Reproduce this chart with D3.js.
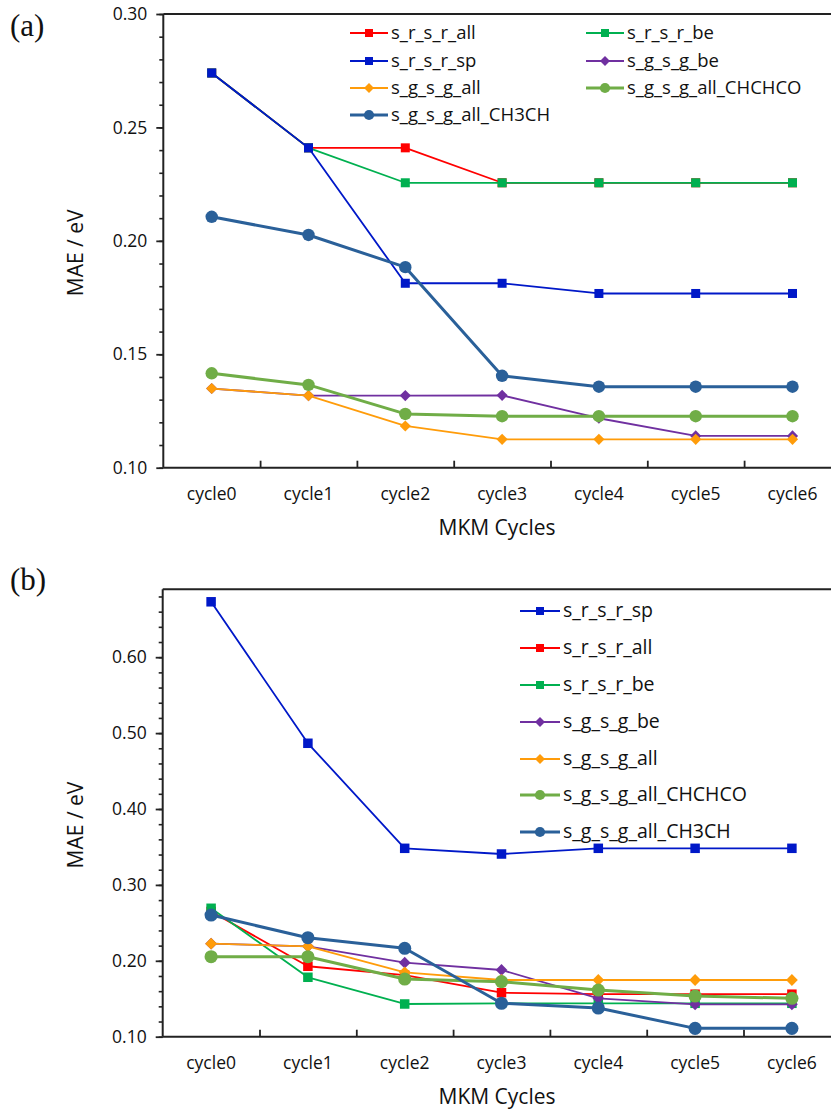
<!DOCTYPE html>
<html><head><meta charset="utf-8">
<script src="https://cdn.jsdelivr.net/npm/d3@7"></script>
<style>
html,body{margin:0;padding:0;background:#fff;}
svg text{font-family:"Open Sans",sans-serif;fill:#111;}
</style></head>
<body>
<svg id="c" width="831" height="1110"></svg>
<script>
// ---------- data ----------
const cycles = ["cycle0","cycle1","cycle2","cycle3","cycle4","cycle5","cycle6"];

// panel (a)
const aNames = ["s_r_s_r_all","s_r_s_r_be","s_r_s_r_sp","s_g_s_g_be","s_g_s_g_all","s_g_s_g_all_CHCHCO","s_g_s_g_all_CH3CH"];
const a_srsr_all = [0.274, 0.241, 0.241, 0.2256, 0.2256, 0.2256, 0.2256];
const a_srsr_be  = [0.274, 0.241, 0.2256, 0.2256, 0.2256, 0.2256, 0.2256];
const a_srsr_sp  = [0.274, 0.241, 0.1813, 0.1813, 0.1768, 0.1768, 0.1768];
const a_sgsg_be  = [0.1349, 0.1318, 0.1318, 0.1319, 0.1218, 0.1140, 0.1140];
const a_sgsg_all = [0.1349, 0.1318, 0.1184, 0.1125, 0.1125, 0.1125, 0.1125];
const a_chchco   = [0.1416, 0.1365, 0.1237, 0.1227, 0.1227, 0.1227, 0.1227];
const a_ch3ch    = [0.2106, 0.2026, 0.1884, 0.1405, 0.1357, 0.1357, 0.1357];
const aTicks = ["0.10","0.15","0.20","0.25","0.30"];

// panel (b)
const bNames = ["s_r_s_r_sp","s_r_s_r_all","s_r_s_r_be","s_g_s_g_be","s_g_s_g_all","s_g_s_g_all_CHCHCO","s_g_s_g_all_CH3CH"];
const b_srsr_sp  = [0.673, 0.4866, 0.3482, 0.3407, 0.3482, 0.3482, 0.3482];
const b_srsr_all = [0.265, 0.1928, 0.181, 0.158, 0.156, 0.156, 0.156];
const b_srsr_be  = [0.2692, 0.1783, 0.1431, 0.144, 0.144, 0.144, 0.144];
const b_sgsg_be  = [0.2225, 0.2191, 0.1975, 0.1879, 0.1506, 0.1427, 0.1427];
const b_sgsg_all = [0.2225, 0.2191, 0.1848, 0.1747, 0.1747, 0.1747, 0.1747];
const b_chchco   = [0.2054, 0.2054, 0.176, 0.1725, 0.1615, 0.1536, 0.1506];
const b_ch3ch    = [0.2603, 0.2304, 0.2165, 0.144, 0.1378, 0.111, 0.111];
const bTicks = ["0.10","0.20","0.30","0.40","0.50","0.60"];

const xTitle = "MKM Cycles";
const yTitle = "MAE / eV";

// ---------- styles ----------
const style = {
  "s_r_s_r_all":        {color:"#FF0000", shape:"square",  lw:1.8},
  "s_r_s_r_be":         {color:"#00B050", shape:"square",  lw:1.8},
  "s_r_s_r_sp":         {color:"#0018C8", shape:"square",  lw:1.8},
  "s_g_s_g_be":         {color:"#7030A0", shape:"diamond", lw:1.8},
  "s_g_s_g_all":        {color:"#FF9C0A", shape:"diamond", lw:1.8},
  "s_g_s_g_all_CHCHCO": {color:"#70AD47", shape:"circle",  lw:3},
  "s_g_s_g_all_CH3CH":  {color:"#2A6099", shape:"circle",  lw:3}
};

const svg = d3.select("#c");

function marker(g, shape, color, size){
  if(shape==="square"){
    g.append("rect").attr("x",-size/2).attr("y",-size/2).attr("width",size).attr("height",size).attr("fill",color);
  } else if(shape==="diamond"){
    const s=size*0.62;
    g.append("path").attr("d",`M0,${-s}L${s},0L0,${s}L${-s},0Z`).attr("fill",color);
  } else {
    g.append("circle").attr("r",size*0.6).attr("fill",color);
  }
}

function panel(opt){
  const {left, top, bottom, band, yMin, yMax, ticks, minorStep, series, drawOrder, label, labelY, legend, msize} = opt;
  const right = left + band*cycles.length;
  const g = svg.append("g");
  const x = d3.scaleBand().domain(cycles).range([left, right]).padding(0);
  const xi = d3.scaleLinear().domain([0, cycles.length]).range([left, right]);
  const y = d3.scaleLinear().domain([yMin, yMax]).range([bottom, top]);

  // top border
  g.append("line").attr("x1",left).attr("x2",right).attr("y1",top).attr("y2",top)
    .attr("stroke","#222").attr("stroke-width",2);

  // minor y ticks
  const minor = d3.range(Math.round((yMax-yMin)/minorStep)+1).map(i=>yMin+i*minorStep);
  const ym = g.append("g").attr("transform",`translate(${left},0)`)
    .call(d3.axisLeft(y).tickValues(minor).tickSize(4).tickFormat(""));
  ym.select(".domain").remove();
  ym.selectAll("line").attr("stroke","#222").attr("stroke-width",1.6);

  // major y ticks
  const ya = g.append("g").attr("transform",`translate(${left},0)`)
    .call(d3.axisLeft(y).tickValues(ticks.map(Number)).tickSize(7).tickPadding(9).tickFormat((d,i)=>ticks[i]));
  ya.select(".domain").attr("stroke","#222").attr("stroke-width",2).attr("d",`M0,${top}V${bottom}`);
  ya.selectAll("line").attr("stroke","#222").attr("stroke-width",1.8);
  ya.selectAll("text").attr("font-size",17.5).attr("fill","#222").style("font-family","'Open Sans',sans-serif");

  // x axis: boundary ticks pointing up
  const xb = g.append("g").attr("transform",`translate(0,${bottom})`)
    .call(d3.axisBottom(xi).tickValues(d3.range(1,cycles.length)).tickSize(-7).tickFormat(""));
  xb.select(".domain").attr("stroke","#222").attr("stroke-width",2).attr("d",`M${left},0H${right}`);
  xb.selectAll("line").attr("stroke","#222").attr("stroke-width",1.8);

  const xl = g.append("g").attr("transform",`translate(0,${bottom})`)
    .call(d3.axisBottom(x).tickSize(0).tickPadding(20));
  xl.select(".domain").remove();
  xl.selectAll("text").attr("font-size",17.5).attr("fill","#222").style("font-family","'Open Sans',sans-serif");

  // titles
  g.append("text").attr("x",497).attr("y",bottom+67).attr("text-anchor","middle")
    .attr("font-size",21).text(xTitle);
  g.append("text").attr("transform",`translate(83,${(top+bottom)/2+12}) rotate(-90)`)
    .attr("text-anchor","middle").attr("font-size",21).text(yTitle);
  g.append("text").attr("x",10).attr("y",labelY).attr("font-size",31)
    .style("font-family","'Liberation Serif','Times New Roman',serif").text(label);

  // series
  const line = d3.line().x((d,i)=>x(cycles[i])+band/2).y(d=>y(d));
  drawOrder.forEach(name=>{
    const st = style[name], vals = series[name];
    g.append("path").attr("d",line(vals)).attr("fill","none")
      .attr("stroke",st.color).attr("stroke-width",st.lw).attr("stroke-linejoin","round");
    vals.forEach((v,i)=>{
      const m = g.append("g").attr("transform",`translate(${x(cycles[i])+band/2},${y(v)})`);
      marker(m, st.shape, st.color, st.shape==="circle"? msize*1.15 : msize);
    });
  });

  // legend
  legend.items.forEach((name,k)=>{
    const st = style[name];
    const lx = legend.x[k], ly = legend.y[k];
    const lg = g.append("g").attr("transform",`translate(${lx},${ly})`);
    lg.append("line").attr("x1",0).attr("x2",legend.len).attr("y1",0).attr("y2",0)
      .attr("stroke",st.color).attr("stroke-width",st.lw);
    const m = lg.append("g").attr("transform",`translate(${legend.len/2},0)`);
    marker(m, st.shape, st.color, st.shape==="circle"? 8.5 : 8);
    lg.append("text").attr("x",legend.len+3).attr("y",6).attr("font-size",legend.fs).text(name);
  });
}

const aSeries = {
  "s_r_s_r_all":a_srsr_all, "s_r_s_r_be":a_srsr_be, "s_r_s_r_sp":a_srsr_sp,
  "s_g_s_g_be":a_sgsg_be, "s_g_s_g_all":a_sgsg_all,
  "s_g_s_g_all_CHCHCO":a_chchco, "s_g_s_g_all_CH3CH":a_ch3ch
};
const bSeries = {
  "s_r_s_r_sp":b_srsr_sp, "s_r_s_r_all":b_srsr_all, "s_r_s_r_be":b_srsr_be,
  "s_g_s_g_be":b_sgsg_be, "s_g_s_g_all":b_sgsg_all,
  "s_g_s_g_all_CHCHCO":b_chchco, "s_g_s_g_all_CH3CH":b_ch3ch
};

const aOrderLegend = ["s_r_s_r_all","s_r_s_r_be","s_r_s_r_sp","s_g_s_g_be","s_g_s_g_all","s_g_s_g_all_CHCHCO","s_g_s_g_all_CH3CH"];

panel({
  left:163.3, top:14, bottom:467.7, band:96.8, yMin:0.10, yMax:0.30,
  ticks:aTicks, minorStep:0.01, series:aSeries, msize:9,
  drawOrder:aOrderLegend, label:"(a)", labelY:36,
  legend:{items:aOrderLegend, fs:18.5, len:38,
    x:[350,586,350,586,350,586,350], y:[33,33,61,61,88,88,115]}
});

panel({
  left:162.7, top:589.3, bottom:1036.7, band:96.8, yMin:0.10, yMax:0.10+447.4/759,
  ticks:bTicks, minorStep:0.02, series:bSeries, msize:9.5,
  drawOrder:["s_r_s_r_all","s_r_s_r_be","s_r_s_r_sp","s_g_s_g_be","s_g_s_g_all","s_g_s_g_all_CHCHCO","s_g_s_g_all_CH3CH"],
  label:"(b)", labelY:590,
  legend:{items:bNames, fs:19.5, len:40,
    x:[520,520,520,520,520,520,520], y:[611,648,685,722,759,795,832]}
});
</script>
</body></html>
